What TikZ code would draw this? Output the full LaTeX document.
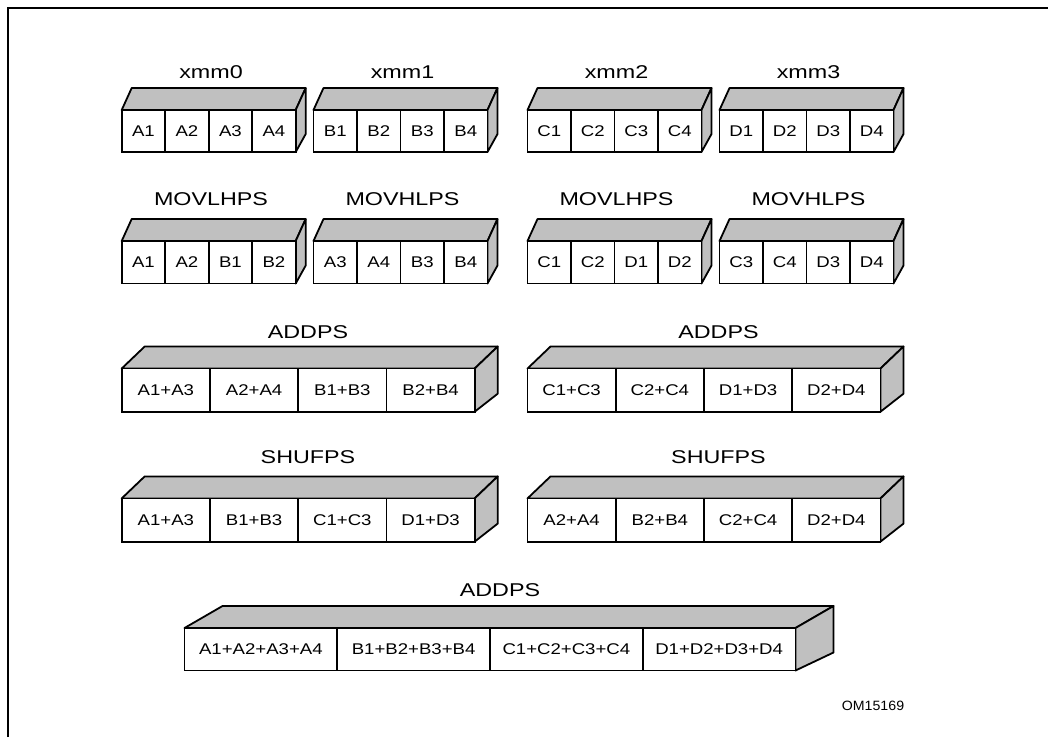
\documentclass[tikz,border=0pt]{standalone}
\usepackage{fontspec}
\setmainfont{Liberation Sans}
\definecolor{boxgray}{RGB}{192,192,192}
\tikzset{
  frameline/.style={line width=2pt},
  regside/.style={draw=black, fill=boxgray, line width=1.8pt, line join=round},
  regfront/.style={draw=black, fill=white, line width=1.8pt},
  divider/.style={draw=black, line width=1.6pt},
  celltext/.style={font=\fontsize{15.5}{17}\selectfont, inner sep=0pt},
  regtitle/.style={font=\fontsize{18.5}{20}\selectfont, inner sep=0pt},
  figid/.style={font=\fontsize{13.5}{15}\selectfont, inner sep=0pt},
}
% #1 name, #2 x0, #3 width, #4 ytop, #5 ybot, #6 depth dx, #7 cell labels
\newcommand\regbox[7]{%
  \pgfmathsetmacro\rbxa{#2}%
  \pgfmathsetmacro\rbxb{#2+#3}%
  \pgfmathsetmacro\rbyt{#4}%
  \pgfmathsetmacro\rbyb{#5}%
  \pgfmathsetmacro\rbyk{#4-22}%
  \pgfmathsetmacro\rbykb{#5-18}%
  \pgfmathsetmacro\rbxk{#2+#6}%
  \pgfmathsetmacro\rbxbk{#2+#3+#6}%
  \filldraw[regside] (\rbxa,\rbyt) -- (\rbxk,\rbyk) -- (\rbxbk,\rbyk) -- (\rbxb,\rbyt) -- cycle;
  \filldraw[regside] (\rbxb,\rbyt) -- (\rbxbk,\rbyk) -- (\rbxbk,\rbykb) -- (\rbxb,\rbyb) -- cycle;
  \filldraw[regfront] (\rbxa,\rbyt) rectangle (\rbxb,\rbyb);
  \foreach \rbi in {1,2,3} {
    \pgfmathsetmacro\rbdx{#2+\rbi*#3/4}
    \draw[divider] (\rbdx,\rbyt) -- (\rbdx,\rbyb);
  }
  \foreach \rbt [count=\rbi] in {#7} {
    \pgfmathsetmacro\rbcx{#2+(\rbi-0.5)*#3/4}
    \pgfmathsetmacro\rbcy{(#4+#5)/2}
    \node[celltext] (#1-\rbi) at (\rbcx,\rbcy) {\scalebox{1.2}[1]{\rbt}};
  }
}
\begin{document}
\begin{tikzpicture}[x=1pt,y=-1pt]
\useasboundingbox (0,0) rectangle (1048,737);
\draw[frameline] (7.5,737) -- (7.5,7.5) -- (1048,7.5);

% row 1
\node[regtitle] (t-xmm0) at (211,71.7) {\scalebox{1.26}[1]{xmm0}};
\node[regtitle] (t-xmm1) at (402.5,71.7) {\scalebox{1.26}[1]{xmm1}};
\node[regtitle] (t-xmm2) at (616.5,71.7) {\scalebox{1.26}[1]{xmm2}};
\node[regtitle] (t-xmm3) at (808.5,71.7) {\scalebox{1.26}[1]{xmm3}};
\regbox{xa}{121.7}{174}{110}{152}{10}{A1,A2,A3,A4}
\regbox{xb}{313.5}{174}{110}{152}{10}{B1,B2,B3,B4}
\regbox{xc}{527.5}{174}{110}{152}{10}{C1,C2,C3,C4}
\regbox{xd}{719.5}{174}{110}{152}{10}{D1,D2,D3,D4}

% row 2
\node[regtitle] (t-m1) at (211,199.5) {\scalebox{1.26}[1]{MOVLHPS}};
\node[regtitle] (t-m2) at (402.5,199.5) {\scalebox{1.26}[1]{MOVHLPS}};
\node[regtitle] (t-m3) at (616.5,199.5) {\scalebox{1.26}[1]{MOVLHPS}};
\node[regtitle] (t-m4) at (808.5,199.5) {\scalebox{1.26}[1]{MOVHLPS}};
\regbox{ma}{121.7}{174}{241}{283.5}{10}{A1,A2,B1,B2}
\regbox{mb}{313.5}{174}{241}{283.5}{10}{A3,A4,B3,B4}
\regbox{mc}{527.5}{174}{241}{283.5}{10}{C1,C2,D1,D2}
\regbox{md}{719.5}{174}{241}{283.5}{10}{C3,C4,D3,D4}

% row 3
\node[regtitle] (t-a1) at (308,331.7) {\scalebox{1.26}[1]{ADDPS}};
\node[regtitle] (t-a2) at (718.5,331.7) {\scalebox{1.26}[1]{ADDPS}};
\regbox{aa}{121.7}{353}{368.5}{411.7}{23}{A1+A3,A2+A4,B1+B3,B2+B4}
\regbox{ab}{527.5}{353}{368.5}{411.7}{23}{C1+C3,C2+C4,D1+D3,D2+D4}

% row 4
\node[regtitle] (t-s1) at (308,457) {\scalebox{1.26}[1]{SHUFPS}};
\node[regtitle] (t-s2) at (718.5,457) {\scalebox{1.26}[1]{SHUFPS}};
\regbox{sa}{121.7}{353}{498.4}{541.6}{23}{A1+A3,B1+B3,C1+C3,D1+D3}
\regbox{sb}{527.5}{353}{498.4}{541.6}{23}{A2+A4,B2+B4,C2+C4,D2+D4}

% row 5
\node[regtitle] (t-f) at (500,590) {\scalebox{1.26}[1]{ADDPS}};
\regbox{fa}{184.5}{611}{628}{670.5}{38}{A1+A2+A3+A4,B1+B2+B3+B4,C1+C2+C3+C4,D1+D2+D3+D4}

\node[figid] (om) at (873,705.7) {\scalebox{1.05}[1]{OM15169}};
\end{tikzpicture}
\end{document}
